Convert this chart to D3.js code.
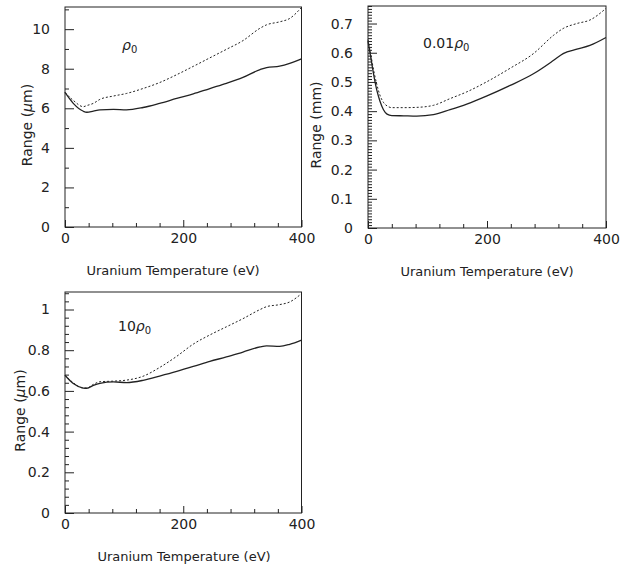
<!DOCTYPE html>
<html>
<head>
<meta charset="utf-8">
<script src="https://cdn.jsdelivr.net/npm/d3@7"></script>
<style>
    body { margin: 0; background: #fff; }
    svg { font-family: "DejaVu Sans", sans-serif; }
</style>
</head>
<body>
<svg id="chart" width="627" height="567"></svg>
<script>
// temperatures (eV) sampled along the curves
const tempsA = [0, 14, 31, 37, 48, 59, 82, 104, 132, 160, 189, 217, 245, 273, 301, 330, 341, 363, 380, 400]
const tempsB = [0, 5, 10, 15, 20, 26, 32, 40, 60, 82, 110, 138, 166, 200, 239, 278, 312, 328, 351, 373, 400]

// rho0 (um)
const rho1Solid = [6.8, 6.25, 5.85, 5.8, 5.86, 5.92, 5.95, 5.92, 6.04, 6.25, 6.5, 6.73, 7.0, 7.26, 7.56, 7.96, 8.06, 8.13, 8.27, 8.5]
const rho1Dotted = [6.8, 6.4, 6.08, 6.14, 6.25, 6.45, 6.62, 6.75, 7.0, 7.3, 7.7, 8.12, 8.55, 8.98, 9.42, 10.05, 10.22, 10.37, 10.54, 11.1]

// 0.01 rho0 (mm)
const rho001Solid = [0.64, 0.58, 0.52, 0.47, 0.435, 0.405, 0.39, 0.385, 0.384, 0.383, 0.388, 0.405, 0.424, 0.452, 0.488, 0.528, 0.574, 0.597, 0.612, 0.625, 0.652]
const rho001Dotted = [0.645, 0.59, 0.535, 0.49, 0.455, 0.43, 0.418, 0.412, 0.412, 0.413, 0.42, 0.443, 0.466, 0.501, 0.547, 0.597, 0.66, 0.683, 0.7, 0.712, 0.752]

// 10 rho0 (um)
const rho10Solid = [0.677, 0.636, 0.614, 0.613, 0.627, 0.637, 0.644, 0.641, 0.652, 0.673, 0.696, 0.72, 0.745, 0.767, 0.791, 0.816, 0.821, 0.819, 0.829, 0.85]
const rho10Dotted = [0.677, 0.64, 0.614, 0.614, 0.632, 0.645, 0.648, 0.653, 0.672, 0.715, 0.77, 0.83, 0.875, 0.915, 0.955, 1.0, 1.014, 1.024, 1.037, 1.078]

// tick values
const xMajor = [0, 200, 400]
const xMinor = [40, 80, 120, 160, 240, 280, 320, 360]
const yMajor1 = [0, 2, 4, 6, 8, 10]
const yMajor2 = [0, 0.1, 0.2, 0.3, 0.4, 0.5, 0.6, 0.7]
const yMajor3 = [0, 0.2, 0.4, 0.6, 0.8, 1]

const ink = '#222'
const svg = d3.select('#chart')

const drawPanel = ({
    left, right, top, bottom, yMax, yMajor, yMinorStep, yFormat,
    temps, solid, dotted, unit, label, labelX, labelY, titleX, yLabelX
}) => {
    const x = d3.scaleLinear().domain([0, 400]).range([left, right])
    const y = d3.scaleLinear().domain([0, yMax]).range([bottom, top])
    const g = svg.append('g')

    const yMinor = d3.range(0, yMax + 1e-9, yMinorStep)
        .filter(v => !yMajor.some(m => Math.abs(m - v) < 1e-9))

    // minor ticks
    g.append('g')
        .attr('transform', `translate(${left},0)`)
        .call(d3.axisLeft(y).tickValues(yMinor).tickSize(-4).tickSizeOuter(0).tickFormat(''))
        .call(a => a.select('.domain').remove())
    g.append('g')
        .attr('transform', `translate(0,${bottom})`)
        .call(d3.axisBottom(x).tickValues(xMinor).tickSize(-4).tickSizeOuter(0).tickFormat(''))
        .call(a => a.select('.domain').remove())

    // major ticks
    g.append('g')
        .attr('transform', `translate(${left},0)`)
        .style('font-size', '14px')
        .call(d3.axisLeft(y).tickValues(yMajor).tickSize(-9).tickPadding(15).tickFormat(yFormat))
        .call(a => a.select('.domain').remove())
    g.append('g')
        .attr('transform', `translate(0,${bottom})`)
        .style('font-size', '14px')
        .call(d3.axisBottom(x).tickValues(xMajor).tickSize(-7).tickPadding(6))
        .call(a => a.select('.domain').remove())

    g.selectAll('.tick line').attr('stroke', ink).attr('stroke-width', 1)
    g.selectAll('.tick text').attr('fill', ink).style('font-family', '"DejaVu Sans", sans-serif')

    // frame
    g.append('rect')
        .attr('x', left).attr('y', top)
        .attr('width', right - left).attr('height', bottom - top)
        .attr('fill', 'none').attr('stroke', ink).attr('stroke-width', 1)

    const line = vals => d3.line()
        .x((d, i) => x(temps[i]))
        .y(d => y(d))
        .curve(d3.curveMonotoneX)(vals)

    g.append('path')
        .attr('d', line(dotted))
        .attr('fill', 'none').attr('stroke', ink).attr('stroke-width', 1)
        .attr('stroke-dasharray', '2,2')
    g.append('path')
        .attr('d', line(solid))
        .attr('fill', 'none').attr('stroke', ink).attr('stroke-width', 1.3)

    // density label
    const lab = g.append('text')
        .attr('x', labelX).attr('y', labelY)
        .attr('fill', ink).style('font-size', '14px')
    if (label) lab.append('tspan').text(label)
    lab.append('tspan').style('font-style', 'italic').text('ρ')
    lab.append('tspan').attr('dy', 3).style('font-size', '10px').text('0')

    // axis titles
    g.append('text')
        .attr('x', titleX).attr('y', bottom + 48)
        .attr('text-anchor', 'middle').attr('fill', ink)
        .style('font-size', '13px')
        .text('Uranium Temperature (eV)')

    const yl = g.append('text')
        .attr('transform', `translate(${yLabelX},${(top + bottom) / 2 + 8}) rotate(-90)`)
        .attr('text-anchor', 'middle').attr('fill', ink)
        .style('font-size', '14px')
    yl.append('tspan').text('Range (')
    if (unit === 'um') {
        yl.append('tspan').style('font-style', 'italic').text('μ')
        yl.append('tspan').text('m)')
    } else {
        yl.append('tspan').text('mm)')
    }
}

drawPanel({
    left: 65, right: 301.5, top: 7, bottom: 227, yMax: 11.12,
    yMajor: yMajor1, yMinorStep: 1, yFormat: d3.format('d'),
    temps: tempsA, solid: rho1Solid, dotted: rho1Dotted,
    unit: 'um', label: '', labelX: 122, labelY: 50, titleX: 173, yLabelX: 32
})

drawPanel({
    left: 368, right: 606, top: 6, bottom: 228, yMax: 0.76,
    yMajor: yMajor2, yMinorStep: 0.01, yFormat: d => d === 0 ? '0' : d3.format('.1f')(d),
    temps: tempsB, solid: rho001Solid, dotted: rho001Dotted,
    unit: 'mm', label: '0.01', labelX: 423, labelY: 48, titleX: 487, yLabelX: 321
})

drawPanel({
    left: 65, right: 301.5, top: 292, bottom: 513, yMax: 1.086,
    yMajor: yMajor3, yMinorStep: 0.04, yFormat: d => (d === 0 || d === 1) ? String(d) : d3.format('.1f')(d),
    temps: tempsA, solid: rho10Solid, dotted: rho10Dotted,
    unit: 'um', label: '10', labelX: 118, labelY: 331, titleX: 184, yLabelX: 25
})
</script>
</body>
</html>
